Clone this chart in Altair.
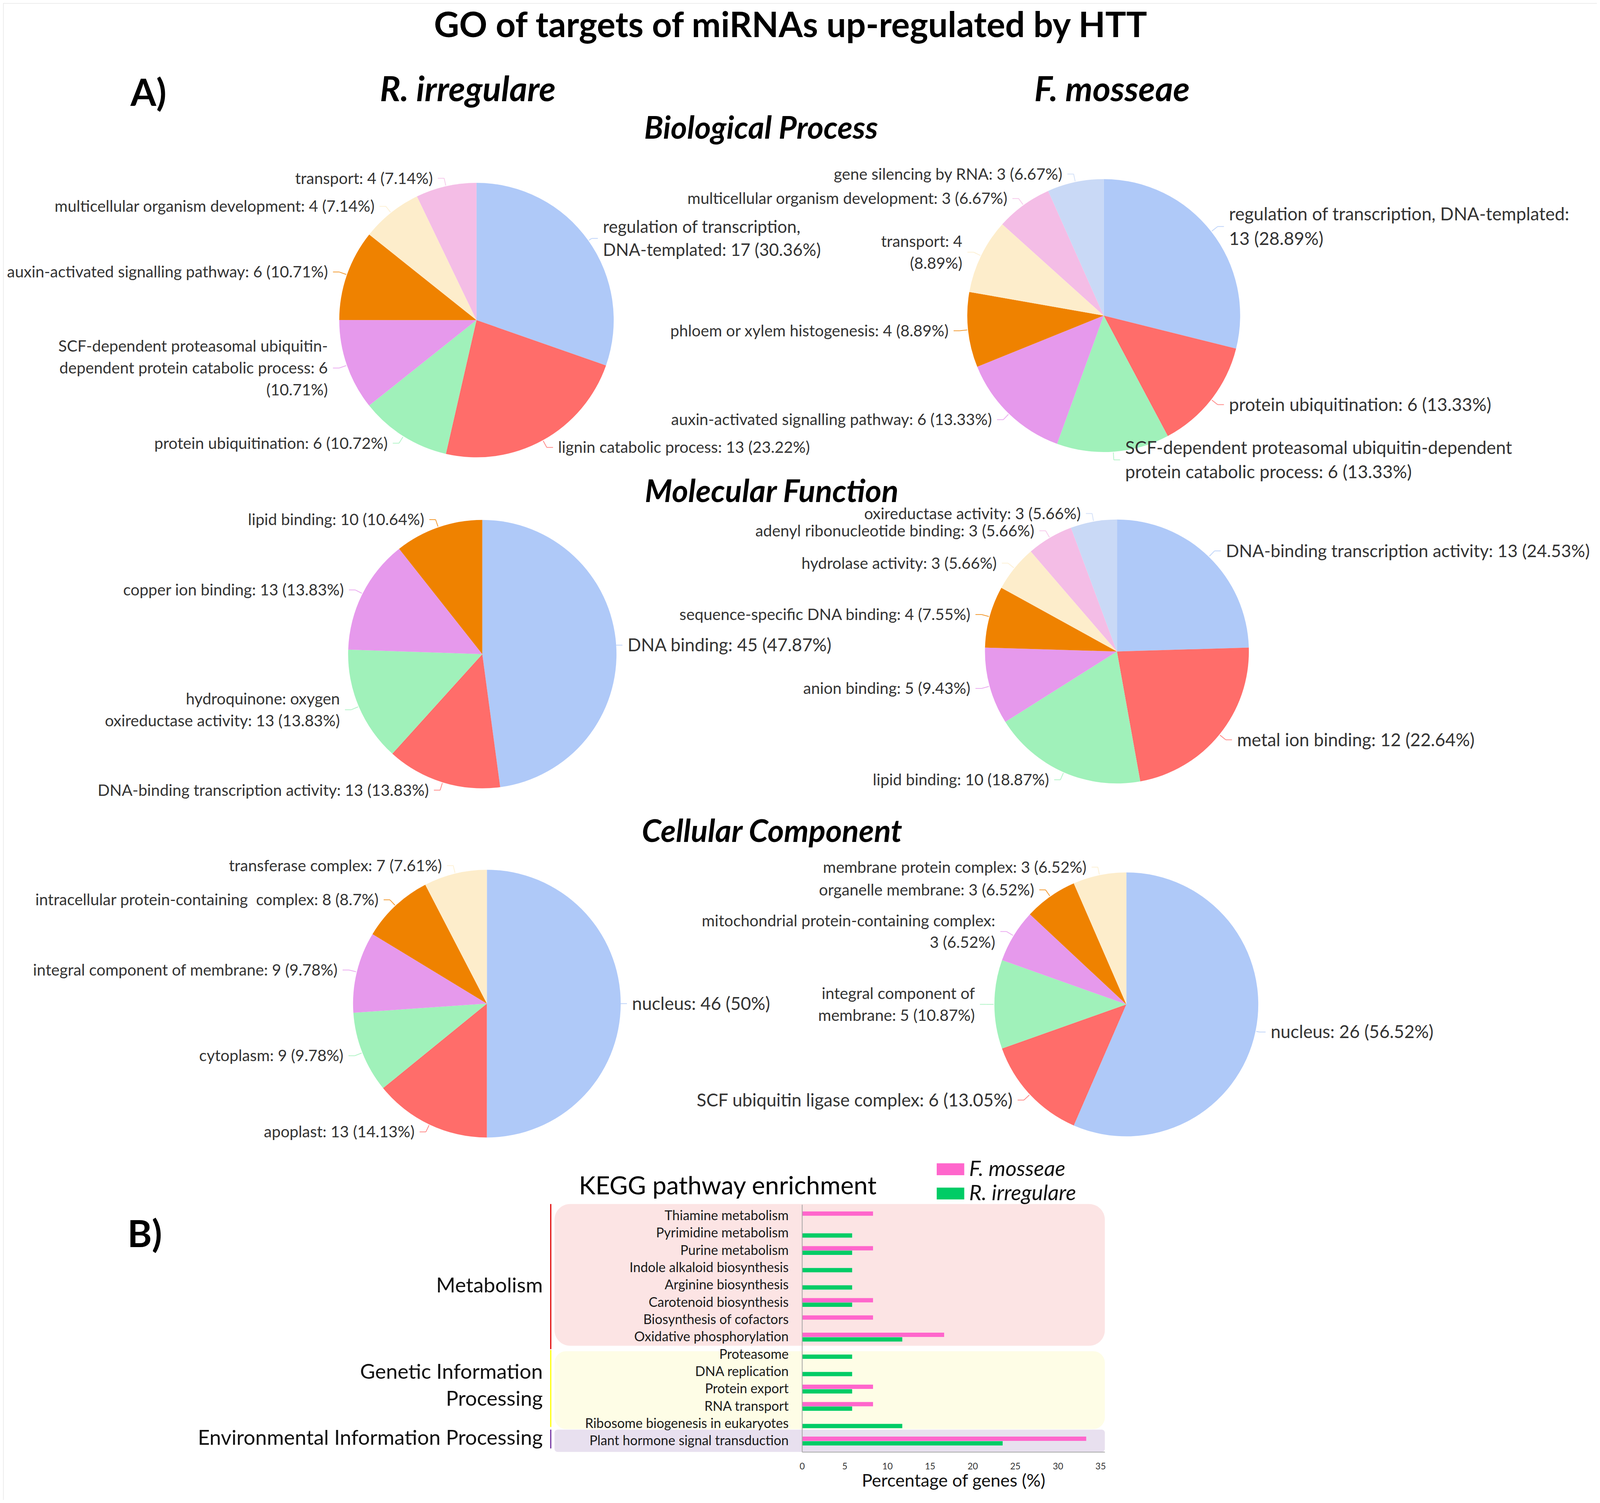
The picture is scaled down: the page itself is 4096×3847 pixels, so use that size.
import json
import altair as alt
import pandas as pd

# ------------------------------------------------------------------ data
TITLE = "GO of targets of miRNAs up-regulated by HTT"
PANEL_A = "A)"
PANEL_B = "B)"
SPECIES = ["R. irregulare", "F. mosseae"]
SECTIONS = ["Biological Process", "Molecular Function", "Cellular Component"]

bp_ri_labels = [
    "regulation of transcription,\nDNA-templated: 17 (30.36%)",
    "lignin catabolic process: 13 (23.22%)",
    "protein ubiquitination: 6 (10.72%)",
    "SCF-dependent proteasomal ubiquitin-\ndependent protein catabolic process: 6\n(10.71%)",
    "auxin-activated signalling pathway: 6 (10.71%)",
    "multicellular organism development: 4 (7.14%)",
    "transport: 4 (7.14%)",
]
bp_ri_values = [30.36, 23.22, 10.72, 10.71, 10.71, 7.14, 7.14]

bp_fm_labels = [
    "regulation of transcription, DNA-templated:\n13 (28.89%)",
    "protein ubiquitination: 6 (13.33%)",
    "SCF-dependent proteasomal ubiquitin-dependent\nprotein catabolic process: 6 (13.33%)",
    "auxin-activated signalling pathway: 6 (13.33%)",
    "phloem or xylem histogenesis: 4 (8.89%)",
    "transport: 4\n(8.89%)",
    "multicellular organism development: 3 (6.67%)",
    "gene silencing by RNA: 3 (6.67%)",
]
bp_fm_values = [28.89, 13.33, 13.33, 13.33, 8.89, 8.89, 6.67, 6.67]

mf_ri_labels = [
    "DNA binding: 45 (47.87%)",
    "DNA-binding transcription activity: 13 (13.83%)",
    "hydroquinone: oxygen\noxireductase activity: 13 (13.83%)",
    "copper ion binding: 13 (13.83%)",
    "lipid binding: 10 (10.64%)",
]
mf_ri_values = [47.87, 13.83, 13.83, 13.83, 10.64]

mf_fm_labels = [
    "DNA-binding transcription activity: 13 (24.53%)",
    "metal ion binding: 12 (22.64%)",
    "lipid binding: 10 (18.87%)",
    "anion binding: 5 (9.43%)",
    "sequence-specific DNA binding: 4 (7.55%)",
    "hydrolase activity: 3 (5.66%)",
    "adenyl ribonucleotide binding: 3 (5.66%)",
    "oxireductase activity: 3 (5.66%)",
]
mf_fm_values = [24.53, 22.64, 18.87, 9.43, 7.55, 5.66, 5.66, 5.66]

cc_ri_labels = [
    "nucleus: 46 (50%)",
    "apoplast: 13 (14.13%)",
    "cytoplasm: 9 (9.78%)",
    "integral component of membrane: 9 (9.78%)",
    "intracellular protein-containing\u00a0 complex: 8 (8.7%)",
    "transferase complex: 7 (7.61%)",
]
cc_ri_values = [50, 14.13, 9.78, 9.78, 8.7, 7.61]

cc_fm_labels = [
    "nucleus: 26 (56.52%)",
    "SCF ubiquitin ligase complex: 6 (13.05%)",
    "integral component of\nmembrane: 5 (10.87%)",
    "mitochondrial protein-containing complex:\n3 (6.52%)",
    "organelle membrane: 3 (6.52%)",
    "membrane protein complex: 3 (6.52%)",
]
cc_fm_values = [56.52, 13.05, 10.87, 6.52, 6.52, 6.52]

KEGG_TITLE = "KEGG pathway enrichment"
KEGG_XTITLE = "Percentage of genes (%)"
kegg_series = ["F. mosseae", "R. irregulare"]
kegg_pathways = [
    "Thiamine metabolism", "Pyrimidine metabolism", "Purine metabolism",
    "Indole alkaloid biosynthesis", "Arginine biosynthesis", "Carotenoid biosynthesis",
    "Biosynthesis of cofactors", "Oxidative phosphorylation", "Proteasome",
    "DNA replication", "Protein export", "RNA transport",
    "Ribosome biogenesis in eukaryotes", "Plant hormone signal transduction",
]
kegg_fmosseae = [8.33, 0, 8.33, 0, 0, 8.33, 8.33, 16.67, 0, 0, 8.33, 8.33, 0, 33.33]
kegg_rirregulare = [0, 5.88, 5.88, 5.88, 5.88, 5.88, 0, 11.76, 5.88, 5.88, 5.88, 5.88, 11.76, 23.53]
kegg_ticks = [0, 5, 10, 15, 20, 25, 30, 35]
kegg_groups = ["Metabolism", "Genetic Information\nProcessing", "Environmental Information Processing"]

# ------------------------------------------------------------------ style / layout
FONT = "Lato"
PIE_COLORS = ["#AFC9F8", "#FF6D6A", "#A0F1BA", "#E699EC", "#EF8200", "#FDEDCB", "#F4BDE6", "#C9D9F6"]
SERIES_COLORS = ["#FF66CC", "#00CC66"]
GROUP_FILLS = ["#FCE4E4", "#FEFDE6", "#E8E0EF"]
GROUP_LINES = ["#E00000", "#FFFF00", "#7030A0"]
GROUP_RADIUS = [40, 30, 8]
LABEL_COLOR = "#333333"

W, H = 4080, 3831
SC = 0.965


def P(v):
    return round(v * SC - 8, 1)


def Z(v):
    return round(v * SC, 1)


FS = 40.5        # normal pie-label font size
FL = 45.5        # enlarged pie-label font size
LHR = 1.375      # line height / font size
LEAD1 = 21
LEAD2 = 16
GAP = 13

# per-slice label style: font sizes and radial leader lengths
BP_RI_STYLE = ([43.5, FS, FS, FS, FS, FS, FS], [10] + [LEAD1] * 6)
BP_FM_STYLE = ([FL, FL, FL, FS, FS, FS, FS, FS], [LEAD1] * 8)
MF_RI_STYLE = ([FL, FS, FS, FS, FS], [0] + [LEAD1] * 4)
MF_FM_STYLE = ([44.5, FL, FS, FS, FS, FS, FS, FS], [LEAD1] * 8)
CC_RI_STYLE = ([FL, FS, FS, FS, FS, FS], [0] + [LEAD1] * 5)
CC_FM_STYLE = ([FL, FL, FS, FS, FS, FS], [10] + [LEAD1] * 5)


def pie(labels, values, style, cx, cy, r):
    n = len(labels)
    sizes, leads = style
    df = pd.DataFrame({"label": labels, "value": values, "idx": list(range(n)),
                       "color": PIE_COLORS[:n], "fs": sizes, "l1": leads})
    cx_, cy_, r_ = P(cx), P(cy), Z(r)
    arc = alt.Chart(df).mark_arc(radius=r_).encode(
        theta=alt.Theta("value:Q", stack=True),
        order=alt.Order("idx:Q", sort="ascending"),
        color=alt.Color("color:N", scale=None),
        x=alt.value(cx_), y=alt.value(cy_),
    )
    geo = (
        alt.Chart(df)
        .transform_window(cum="sum(value)", sort=[alt.SortField("idx", order="ascending")],
                          frame=[None, 0])
        .transform_joinaggregate(total="sum(value)")
        .transform_calculate(
            mid="2*PI*(datum.cum - datum.value/2)/datum.total",
            sn="sin(datum.mid)",
            cs="cos(datum.mid)",
            side="datum.sn >= 0 ? 1 : -1",
            x0=f"{cx_} + {r_ + 2}*datum.sn",
            y0=f"{cy_} - {r_ + 2}*datum.cs",
            ax=f"{cx_} + ({r_} + datum.l1)*datum.sn",
            ay=f"{cy_} - ({r_} + datum.l1)*datum.cs",
            hx=f"datum.ax + datum.side*{LEAD2}",
            lx=f"datum.ax + datum.side*{LEAD2 + GAP}",
            nl="length(split(datum.label, '\\n'))",
            ly=f"datum.ay - (datum.nl - 1)*datum.fs*{LHR / 2} + 0.35*datum.fs",
        )
    )
    out = [arc]
    out.append(geo.transform_filter("datum.l1 > 2").mark_rule(strokeWidth=2, opacity=0.8).encode(
        x=alt.X("x0:Q", scale=None, axis=None), y=alt.Y("y0:Q", scale=None, axis=None),
        x2="ax:Q", y2="ay:Q", color=alt.Color("color:N", scale=None)))
    out.append(geo.mark_rule(strokeWidth=2, opacity=0.8).encode(
        x=alt.X("ax:Q", scale=None, axis=None), y=alt.Y("ay:Q", scale=None, axis=None),
        x2="hx:Q", y2="ay:Q", color=alt.Color("color:N", scale=None)))
    for fs in sorted(set(sizes)):
        for side, align in [(1, "left"), (-1, "right")]:
            out.append(geo.transform_filter(f"datum.side == {side} && datum.fs == {fs}").mark_text(
                align=align, baseline="alphabetic", lineBreak="\n", font=FONT, fontSize=fs,
                lineHeight=round(fs * LHR, 1), color=LABEL_COLOR).encode(
                x=alt.X("lx:Q", scale=None, axis=None), y=alt.Y("ly:Q", scale=None, axis=None),
                text="label:N"))
    return out


def text(t, x, y, size, weight="normal", style="normal", align="center",
         baseline="alphabetic", color="#000000"):
    return alt.Chart(pd.DataFrame({"t": [t]})).mark_text(
        font=FONT, fontSize=size, fontWeight=weight, fontStyle=style, align=align,
        baseline=baseline, color=color).encode(text="t:N", x=alt.value(x), y=alt.value(y))


layers = []

# headers
layers.append(text(TITLE, P(2097), P(98), 89, weight="bold"))
layers.append(text(PANEL_A, P(346), P(281), 95, weight="bold", align="left"))
layers.append(text(SPECIES[0], P(1241), P(268), 88, weight="bold", style="italic"))
layers.append(text(SPECIES[1], P(2950), P(268), 88, weight="bold", style="italic"))
layers.append(text(SECTIONS[0], P(2019), P(368), 80, weight="bold", style="italic"))
layers.append(text(SECTIONS[1], P(2047), P(1331.6), 80, weight="bold", style="italic"))
layers.append(text(SECTIONS[2], P(2048), P(2233), 80, weight="bold", style="italic"))
layers.append(text(PANEL_B, P(338), P(3307.5), 95, weight="bold", align="left"))

# pies
layers += pie(bp_ri_labels, bp_ri_values, BP_RI_STYLE, 1264, 849, 364)
layers += pie(bp_fm_labels, bp_fm_values, BP_FM_STYLE, 2928, 837, 362)
layers += pie(mf_ri_labels, mf_ri_values, MF_RI_STYLE, 1279.5, 1735, 356)
layers += pie(mf_fm_labels, mf_fm_values, MF_FM_STYLE, 2963, 1728, 350)
layers += pie(cc_ri_labels, cc_ri_values, CC_RI_STYLE, 1291.6, 2662, 355)
layers += pie(cc_fm_labels, cc_fm_values, CC_FM_STYLE, 2988, 2664, 350)

# ------------------------------------------------------------------ KEGG panel
ROW0, ROWSTEP = 3220.5, 46.68
Y_LO = -0.55
Y_HI = (3851 - ROW0) / ROWSTEP
xs = alt.Scale(domain=[0, 35.5], range=[P(2127.6), P(2930.7)], nice=False, zero=False)
ys = alt.Scale(domain=[Y_LO, Y_HI], range=[P(ROW0 + Y_LO * ROWSTEP), P(3851)], nice=False,
               zero=False)
PXU = Z(ROWSTEP)

BOX_SPANS = [(-0.578, 7.476), (7.787, 12.21), (12.243, Y_HI)]
LINE_SPANS = [(-0.578, 7.67), (7.72, 12.09), (12.24, 13.31)]
GROUP_CENTERS = [4.04, 9.71, 12.70]

for i in range(len(kegg_groups)):
    bdf = pd.DataFrame({"y0": [BOX_SPANS[i][0]], "y1": [BOX_SPANS[i][1]]})
    layers.append(alt.Chart(bdf).mark_rect(cornerRadius=GROUP_RADIUS[i], color=GROUP_FILLS[i]).encode(
        x=alt.value(P(1471)), x2=alt.value(P(2931)),
        y=alt.Y("y0:Q", scale=ys, axis=None), y2="y1:Q"))

ldf = pd.DataFrame({"g": kegg_groups, "l0": [s[0] for s in LINE_SPANS],
                    "l1": [s[1] for s in LINE_SPANS], "c": GROUP_LINES,
                    "mid": GROUP_CENTERS})
layers.append(alt.Chart(ldf).mark_rule(strokeWidth=3).encode(
    x=alt.value(P(1461)), y=alt.Y("l0:Q", scale=ys, axis=None), y2="l1:Q",
    color=alt.Color("c:N", scale=None)))

GFS, GLH = 53, Z(72)
layers.append(alt.Chart(ldf).transform_calculate(
    nl="length(split(datum.g, '\\n'))",
    ty=f"datum.mid - ((datum.nl - 1)*{GLH / 2} - {0.35 * GFS})/{PXU}",
).mark_text(align="right", baseline="alphabetic", lineBreak="\n", font=FONT, fontSize=GFS,
            lineHeight=GLH, color="#111111").encode(
    x=alt.value(P(1440)), y=alt.Y("ty:Q", scale=ys, axis=None), text="g:N"))

kdf = pd.DataFrame({
    "pathway": kegg_pathways * 2,
    "idx": list(range(len(kegg_pathways))) * 2,
    "series": [kegg_series[0]] * len(kegg_pathways) + [kegg_series[1]] * len(kegg_pathways),
    "value": kegg_fmosseae + kegg_rirregulare,
})
xaxis = alt.Axis(values=kegg_ticks, orient="bottom", offset=round(P(3851) - H, 1),
                 domainColor="#A6A6A6", domainWidth=2, ticks=False, tickSize=0, grid=False,
                 labelFont=FONT, labelFontSize=23, labelColor="#333333", labelPadding=26,
                 labelFlush=False, labelOverlap=False, title=KEGG_XTITLE, titleFont=FONT,
                 titleFontSize=45, titleFontWeight="normal", titleColor="#111111",
                 titleY=Z(77), titleBaseline="middle", zindex=1)
yaxis = alt.Axis(values=list(range(len(kegg_pathways))), orient="left",
                 offset=-P(2127.6), labelExpr=f"{json.dumps(kegg_pathways)}[datum.value]",
                 domainColor="#A6A6A6", domainWidth=2, ticks=False, tickSize=0, grid=False,
                 labelFont=FONT, labelFontSize=34, labelColor="#1A1A1A", labelLimit=0,
                 labelPadding=Z(36), labelAlign="right", labelBaseline="middle",
                 labelOverlap=False, labelBound=False, title=None, zindex=1)
layers.append(alt.Chart(kdf).transform_calculate(
    pos=f"datum.idx + (datum.series == '{kegg_series[0]}' ? {-6.2 / PXU} : {5.6 / PXU})"
).mark_bar(orient="horizontal", height=11).encode(
    x=alt.X("value:Q", scale=xs, stack=None, axis=xaxis),
    y=alt.Y("pos:Q", scale=ys, axis=yaxis),
    color=alt.Color("series:N", scale=alt.Scale(domain=kegg_series, range=SERIES_COLORS),
                    legend=None),
))

# KEGG title and legend
layers.append(text(KEGG_TITLE, P(1930.5), P(3167.7), 64))
legdf = pd.DataFrame({"series": kegg_series, "color": SERIES_COLORS, "k": [0, 1]})
leg = alt.Chart(legdf).transform_calculate(
    ly0=f"{P(3085.6)} + datum.k*{Z(64.4)}",
    ly1=f"{P(3085.6)} + datum.k*{Z(64.4)} + {Z(31.4)}",
    lty=f"{P(3085.6)} + datum.k*{Z(64.4)} + {Z(15.7)}",
)
layers.append(leg.mark_rect().encode(
    x=alt.value(P(2485)), x2=alt.value(P(2558)),
    y=alt.Y("ly0:Q", scale=None, axis=None), y2="ly1:Q",
    color=alt.Color("color:N", scale=None)))
layers.append(leg.mark_text(align="left", baseline="middle", font=FONT, fontSize=55,
                            fontStyle="italic", color="#111111").encode(
    x=alt.value(P(2571)), y=alt.Y("lty:Q", scale=None, axis=None), text="series:N"))

chart = alt.layer(*layers).resolve_scale(
    x="independent", y="independent", theta="independent", color="independent"
).properties(
    width=W, height=H, autosize=alt.AutoSizeParams(type="none"), padding=0,
).configure_view(stroke=None).configure(background="white")

chart.save("out.html", embed_options={"renderer": "svg", "actions": False})
